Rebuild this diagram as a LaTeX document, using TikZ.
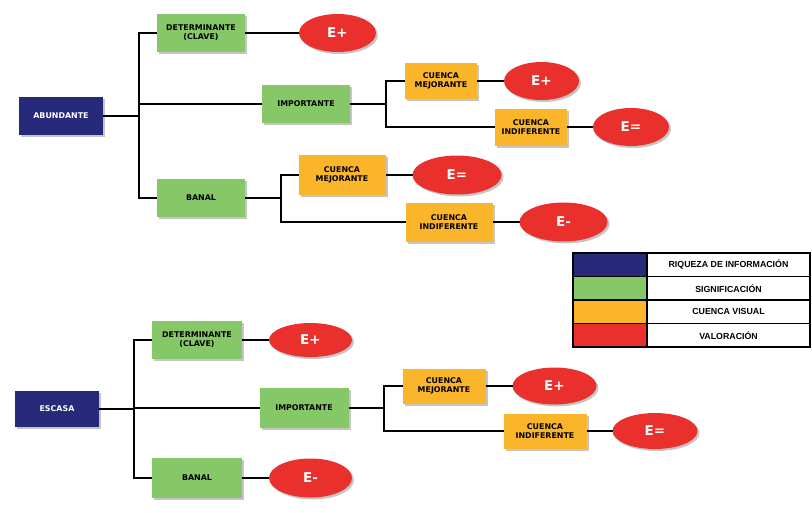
\documentclass[tikz,border=0pt]{standalone}
\usepackage{fontspec}
\setmainfont{Liberation Sans}
\newfontfamily\verafont{DejaVu Sans}
\usepackage{xcolor}
\usetikzlibrary{positioning}
\usetikzlibrary{shapes.geometric}
\usetikzlibrary{shadows}
\definecolor{azul}{HTML}{27297A}
\definecolor{verde}{HTML}{86C867}
\definecolor{naranja}{HTML}{FBB52A}
\definecolor{rojo}{HTML}{E9302C}
\tikzset{sombra/.style={drop shadow={shadow xshift=2pt, shadow yshift=-2pt, fill=black!45, opacity=.5}},
caja/.style={rectangle, align=center, inner sep=1pt, outer sep=0pt, sombra,
font=\verafont\fontsize{7.9}{9.2}\selectfont\bfseries},
riqueza/.style={caja, fill=azul, text=white, minimum width=84pt, minimum height=38pt},
signif/.style={caja, fill=verde, minimum width=88pt, minimum height=38pt},
cuenca/.style={caja, fill=naranja, minimum width=87pt, minimum height=39pt},
valor/.style={ellipse, fill=rojo, text=white, inner sep=0pt, outer sep=0pt, sombra,
minimum width=77pt, minimum height=38pt, font=\verafont\fontsize{13.5}{14}\selectfont\bfseries}}

\begin{document}
\begin{tikzpicture}[x=1pt, y=-1pt, line width=1.5pt,
	leyenda/.style={draw, rectangle, outer sep=0pt, minimum height=23.5pt, font=\fontsize{8.8}{9}\selectfont\bfseries}]

	\useasboundingbox (0,0) rectangle (812,512);

	% abundante
	\node[riqueza] (abun) at (61,116) {ABUNDANTE};
	\node[signif] (det1) at (201,33) {DETERMINANTE\\(CLAVE)};
	\node[valor, right=54pt of det1] (v1) {E+};
	\node[signif] (imp1) at (306,104) {IMPORTANTE};
	\node[cuenca, minimum width=72pt, minimum height=36pt] (mej1) at (441,81) {CUENCA\\MEJORANTE};
	\node[valor, minimum width=75pt, right=27pt of mej1] (v2) {E+};
	\node[cuenca, minimum width=72pt, minimum height=37pt] (ind1) at (531,127) {CUENCA\\INDIFERENTE};
	\node[valor, minimum width=76pt, right=26pt of ind1] (v3) {E=};
	\node[signif] (ban1) at (201,198) {BANAL};
	\node[cuenca, minimum height=40pt] (mej2) at (342,175) {CUENCA\\MEJORANTE};
	\node[valor, minimum width=89pt, minimum height=39pt, right=27pt of mej2] (v4) {E=};
	\node[cuenca] (ind2) at (449,222) {CUENCA\\INDIFERENTE};
	\node[valor, minimum width=88pt, minimum height=39pt, right=27pt of ind2] (v5) {E-};

	\coordinate (ra) at (139,116);
	\coordinate (rb) at (386,104);
	\coordinate (rc) at (281,198);
	\draw (abun) -- (ra);
	\draw (det1) -| (ra);
	\draw (imp1) -| (ra);
	\draw (ban1) -| (ra);
	\draw (det1) -- (v1);
	\draw (imp1) -- (rb);
	\draw (mej1) -| (rb);
	\draw (ind1) -| (rb);
	\draw (mej1) -- (v2);
	\draw (ind1) -- (v3);
	\draw (ban1) -- (rc);
	\draw (mej2) -| (rc);
	\draw (ind2) -| (rc);
	\draw (mej2) -- (v4);
	\draw (ind2) -- (v5);

	% leyenda
	\node[leyenda, fill=azul, minimum width=74pt] (c1) at (610,264.75) {};
	\node[leyenda, minimum width=163pt, right=0pt of c1] (t1) {RIQUEZA DE INFORMACIÓN};
	\node[leyenda, fill=verde, minimum width=74pt, below=0pt of c1] (c2) {};
	\node[leyenda, minimum width=163pt, right=0pt of c2] (t2) {SIGNIFICACIÓN};
	\node[leyenda, fill=naranja, minimum width=74pt, below=0pt of c2] (c3) {};
	\node[leyenda, minimum width=163pt, right=0pt of c3] (t3) {CUENCA VISUAL};
	\node[leyenda, fill=rojo, minimum width=74pt, below=0pt of c3] (c4) {};
	\node[leyenda, minimum width=163pt, right=0pt of c4] (t4) {VALORACIÓN};

	% escasa
	\node[riqueza, minimum height=36pt] (esc) at (57,409) {ESCASA};
	\node[signif, minimum width=90pt] (det2) at (197,340) {DETERMINANTE\\(CLAVE)};
	\node[valor, minimum width=83pt, minimum height=34pt, right=27pt of det2] (v6) {E+};
	\node[signif, minimum width=89pt, minimum height=40pt] (imp2) at (304,408) {IMPORTANTE};
	\node[cuenca, minimum width=83pt, minimum height=35pt] (mej3) at (444,386) {CUENCA\\MEJORANTE};
	\node[valor, minimum width=84pt, minimum height=37pt, right=27pt of mej3] (v7) {E+};
	\node[cuenca, minimum width=83pt, minimum height=35pt] (ind3) at (545,431) {CUENCA\\INDIFERENTE};
	\node[valor, minimum width=85pt, minimum height=36pt, right=26pt of ind3] (v8) {E=};
	\node[signif, minimum width=90pt, minimum height=40pt] (ban2) at (197,478) {BANAL};
	\node[valor, minimum width=83pt, minimum height=39pt, right=27pt of ban2] (v9) {E-};

	\coordinate (rd) at (134,409);
	\coordinate (re) at (384,408);
	\draw (esc) -- (rd);
	\draw (det2) -| (rd);
	\draw (imp2) -| (rd);
	\draw (ban2) -| (rd);
	\draw (det2) -- (v6);
	\draw (ban2) -- (v9);
	\draw (imp2) -- (re);
	\draw (mej3) -| (re);
	\draw (ind3) -| (re);
	\draw (mej3) -- (v7);
	\draw (ind3) -- (v8);
\end{tikzpicture}
\end{document}
